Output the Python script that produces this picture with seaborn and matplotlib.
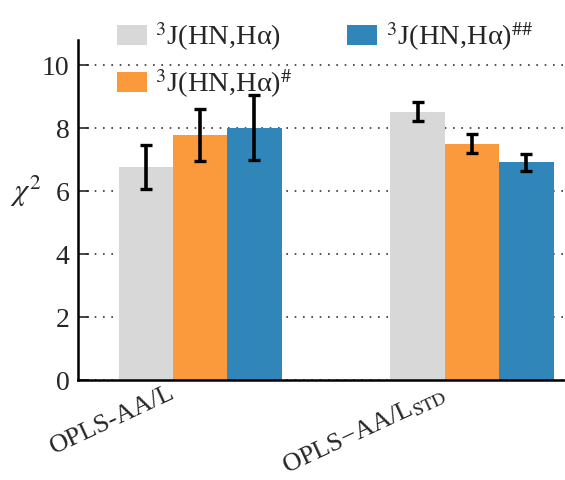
import matplotlib
matplotlib.use("Agg")
import matplotlib.pyplot as plt
import matplotlib.transforms as mtransforms
import seaborn as sns
import pandas as pd
import numpy as np

categories = ["OPLS-AA/L", "OPLS\u2212AA/L$_{\\rm STD}$"]
series = ["$^{3}$J(HN,H\u03b1)", "$^{3}$J(HN,H\u03b1)$^{\\#}$", "$^{3}$J(HN,H\u03b1)$^{\\#\\#}$"]
values = {
    series[0]: [6.77, 8.52],
    series[1]: [7.78, 7.51],
    series[2]: [8.01, 6.91],
}
errors = {
    series[0]: [0.70, 0.30],
    series[1]: [0.83, 0.30],
    series[2]: [1.03, 0.26],
}
colors = ["#d8d8d8", "#fb9a3c", "#3186b9"]

sns.set_style("white")
plt.rcParams["font.family"] = ["Liberation Serif", "DejaVu Serif"]
plt.rcParams["mathtext.fontset"] = "stix"

rows = []
for s in series:
    for c, v, e in zip(categories, values[s], errors[s]):
        rows.append({"cat": c, "series": s, "val": v, "err": e})
df = pd.DataFrame(rows)

W, H = 565, 480
fig = plt.figure(figsize=(W / 100, H / 100), dpi=100)
ax = fig.add_axes([78 / W, 1 - 380 / H, 1 - 78 / W, (380 - 40) / H])

sns.barplot(data=df, x="cat", y="val", hue="series", hue_order=series,
            palette=colors, width=0.6, errorbar=None, saturation=1,
            ax=ax, legend=True, linewidth=0)

# error bars at the bar centres
for s, cont in zip(series, ax.containers):
    xs = [p.get_x() + p.get_width() / 2 for p in cont.patches]
    ax.errorbar(xs, values[s], yerr=errors[s], fmt="none", ecolor="black",
                elinewidth=2.6, capsize=4.5, capthick=2.4, zorder=5)

ax.set_ylim(0, 10.8)
ax.set_xlim(-0.449, 1.342)
ax.set_yticks([0, 2, 4, 6, 8, 10])
ax.yaxis.grid(True, linestyle=(0, (1, 4)), color="#333333", linewidth=1.2)
ax.set_axisbelow(True)
for side in ["top", "right"]:
    ax.spines[side].set_visible(False)
for side in ["left", "bottom"]:
    ax.spines[side].set_color("black")
    ax.spines[side].set_linewidth(1.8)
ax.tick_params(axis="y", direction="in", length=8, width=1.2, labelsize=20, pad=6, left=True)
ax.tick_params(axis="x", length=0, labelsize=19, pad=1)
offset = mtransforms.ScaledTranslation(-22 / 100, 0 / 100, fig.dpi_scale_trans)
for lab in ax.get_xticklabels():
    lab.set_rotation(25)
    lab.set_ha("right")
    lab.set_transform(lab.get_transform() + offset)

ax.set_xlabel("")
ax.set_ylabel("$\\chi^2$", rotation=0, fontsize=22, va="center", ha="center")
ax.yaxis.set_label_coords(-0.108, 6 / 10.8)

leg = ax.get_legend()
handles = leg.legend_handles
labels = [t.get_text() for t in leg.get_texts()]
leg.remove()
fig.legend(handles, labels, loc="upper left", bbox_to_anchor=(117 / W, 1 - 20 / H),
           ncol=2, frameon=False, fontsize=20.5, handlelength=1.05, handleheight=0.7,
           handletextpad=0.3, columnspacing=1.9, labelspacing=0.5,
           borderpad=0, borderaxespad=0)

fig.savefig("out.png", dpi=100)
